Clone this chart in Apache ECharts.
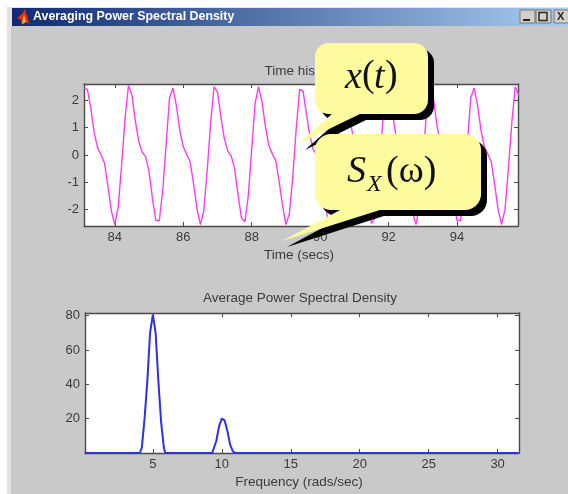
<!DOCTYPE html>
<html><head><meta charset="utf-8">
<style>html,body{margin:0;padding:0;background:#fff}#main{width:568px;height:494px;filter:blur(0.6px)}</style>
<script src="https://cdn.jsdelivr.net/npm/echarts@6/dist/echarts.min.js"></script>
</head><body><div id="main"></div>
<script>
const windowTitle = 'Averaging Power Spectral Density';
const timeTitle = 'Time history';
const timeAxisName = 'Time (secs)';
const freqTitle = 'Average Power Spectral Density';
const freqAxisName = 'Frequency (rads/sec)';
const timeTicks = [84, 86, 88, 90, 92, 94];
const signalTicks = [-2, -1, 0, 1, 2];
const freqTicks = [5, 10, 15, 20, 25, 30];
const psdTicks = [20, 40, 60, 80];

const timeSecs = [83.1,83.2,83.3,83.4,83.5,83.6,83.7,83.8,83.9,84.0,84.1,84.2,84.3,84.4,84.5,84.6,84.7,84.8,84.9,85.0,85.1,85.2,85.3,85.4,85.5,85.6,85.7,85.8,85.9,86.0,86.1,86.2,86.3,86.4,86.5,86.6,86.7,86.8,86.9,87.0,87.1,87.2,87.3,87.4,87.5,87.6,87.7,87.8,87.9,88.0,88.1,88.2,88.3,88.4,88.5,88.6,88.7,88.8,88.9,89.0,89.1,89.2,89.3,89.4,89.5,89.6,89.7,89.8,89.9,90.0,90.1,90.2,90.3,90.4,90.5,90.6,90.7,90.8,90.9,91.0,91.1,91.2,91.3,91.4,91.5,91.6,91.7,91.8,91.9,92.0,92.1,92.2,92.3,92.4,92.5,92.6,92.7,92.8,92.9,93.0,93.1,93.2,93.3,93.4,93.5,93.6,93.7,93.8,93.9,94.0,94.1,94.2,94.3,94.4,94.5,94.6,94.7,94.8,94.9,95.0,95.1,95.2,95.3,95.4,95.5,95.6,95.7,95.8];
const signal = [2.45,2.4,1.7,0.8,0.25,0,-0.3,-1.15,-2.05,-2.55,-1.9,-0.35,1.35,2.55,2.2,1.25,0.5,0.1,-0.05,-0.6,-1.6,-2.4,-2.4,-1.3,0.4,2.1,2.45,1.8,0.9,0.3,0.03,-0.25,-1.05,-1.95,-2.55,-2.05,-0.55,1.15,2.5,2.3,1.4,0.6,0.15,-0.03,-0.5,-1.45,-2.3,-2.45,-1.5,0.2,1.9,2.5,1.95,1.05,0.35,0.05,-0.2,-0.95,-1.85,-2.55,-2.15,-0.8,0.95,2.4,2.35,1.5,0.7,0.2,0,-0.4,-1.35,-2.2,-2.5,-1.7,0,1.6,2.5,2.05,1.1,0.4,0.07,-0.1,-0.8,-1.75,-2.5,-2.3,-1,0.75,2.25,2.4,1.65,0.8,0.25,0,-0.35,-1.2,-2.1,-2.55,-1.85,-0.25,1.45,2.55,2.15,1.2,0.45,0.1,-0.07,-0.65,-1.6,-2.4,-2.4,-1.25,0.45,2.1,2.45,1.8,0.9,0.3,0.03,-0.25,-1.1,-2,-2.55,-2,-0.5,1.2,2.5,2.2];

const freqs = [0.08,2,4.05,4.1,4.2,4.4,4.6,4.8,5.0,5.2,5.4,5.6,5.8,5.9,7,9.3,9.4,9.6,9.8,10.0,10.2,10.4,10.6,10.8,11.0,11.5,12,15,20,25,30,31.5];
const psd = [0,0,0,0.5,3,20,42,70,80.5,70,42,18,3,0,0,0,1,7,15.5,20,19,13,5,1,0,0,0,0,0,0,0,0];

const TXT = '#3a3a3a', FRAME = '#4a4a4a', FONT = '"Liberation Sans", Arial, sans-serif';
function zip(a, b) { return a.map((v, i) => [v, b[i]]); }
function axisBase(ticks, showLabel, extra) {
  return Object.assign({
    type: 'value', splitLine: { show: false },
    axisLine: { show: true, onZero: false, lineStyle: { color: FRAME, width: 1.4 } },
    axisTick: { show: true, inside: true, length: 4, customValues: ticks, lineStyle: { color: FRAME } },
    axisLabel: { show: showLabel, customValues: ticks, color: TXT, fontSize: 13, fontFamily: FONT, margin: 5 }
  }, extra);
}
const timeLim = { min: 83.1, max: 95.78 }, sigLim = { min: -2.6, max: 2.6 };
const freqLim = { min: 0.08, max: 31.55 }, psdLim = { min: 0, max: 81.5 };
const titleStyle = { color: TXT, fontSize: 13.5, fontWeight: 'normal', fontFamily: FONT };

function callout(rect, r, tail, shadowTail) {
  const S = 6;
  return [
    { type: 'rect', z: 100, shape: { x: rect[0] + S, y: rect[1] + S, width: rect[2], height: rect[3], r: r }, style: { fill: '#000' } },
    { type: 'polygon', z: 100, shape: { points: shadowTail }, style: { fill: '#000' } },
    { type: 'polygon', z: 101, shape: { points: tail }, style: { fill: '#fdfb9e' } },
    { type: 'rect', z: 101, shape: { x: rect[0], y: rect[1], width: rect[2], height: rect[3], r: r }, style: { fill: '#fdfb9e' } }
  ];
}
function serif(x, y, text, size, italic) {
  return { type: 'text', z: 102, x: x, y: y, style: { text: text, fill: '#111', fontFamily: '"Liberation Serif", serif', fontSize: size, fontStyle: italic ? 'italic' : 'normal', verticalAlign: 'middle' } };
}
const decor = [
  { type: 'rect', z: -2, silent: true, shape: { x: 7, y: 7, width: 561, height: 487 }, style: { fill: '#e4e2dc' } },
  { type: 'rect', z: -1, silent: true, shape: { x: 11, y: 26, width: 557, height: 468 }, style: { fill: '#c9c9c9' } },
  { type: 'rect', z: -1, silent: true, shape: { x: 12, y: 8, width: 556, height: 18 },
    style: { fill: new echarts.graphic.LinearGradient(0, 0, 1, 0, [{ offset: 0, color: '#0f2a72' }, { offset: 1, color: '#a8ccf0' }]) } },
  { type: 'polygon', z: 1, shape: { points: [[17, 18], [22, 14], [25, 9], [28, 20], [30, 24], [26, 22], [22, 25], [21, 20]] }, style: { fill: '#e83010' } },
  { type: 'polygon', z: 1, shape: { points: [[22, 24], [24, 15], [26, 22]] }, style: { fill: '#f8c820' } },
  { type: 'text', z: 1, x: 33, y: 17, style: { text: windowTitle, fill: '#fff', font: 'bold 12.4px ' + FONT, verticalAlign: 'middle' } },
  { type: 'rect', z: 1, shape: { x: 520, y: 10, width: 15, height: 13 }, style: { fill: '#d4d0c8', stroke: '#777', lineWidth: 1 } },
  { type: 'rect', z: 1, shape: { x: 536, y: 10, width: 15, height: 13 }, style: { fill: '#d4d0c8', stroke: '#777', lineWidth: 1 } },
  { type: 'rect', z: 1, shape: { x: 554, y: 10, width: 15, height: 13 }, style: { fill: '#d4d0c8', stroke: '#777', lineWidth: 1 } },
  { type: 'line', z: 2, shape: { x1: 523, y1: 20, x2: 530, y2: 20 }, style: { stroke: '#222', lineWidth: 2 } },
  { type: 'rect', z: 2, shape: { x: 539, y: 12.5, width: 8, height: 8 }, style: { fill: 'none', stroke: '#222', lineWidth: 1.4 } },
  { type: 'text', z: 2, x: 557, y: 16.5, style: { text: 'X', fill: '#222', font: 'bold 11px ' + FONT, verticalAlign: 'middle' } }
].concat(
  callout([315, 43, 113, 71], 14, [[333, 113], [298, 144], [362, 113]], [[340, 119], [305, 150], [368, 119]]),
  callout([315, 134, 166, 76], 16, [[342, 209], [282, 241], [383, 209]], [[348, 214], [287, 247], [390, 214]]),
  [
    serif(345, 78, 'x', 38, true), serif(362, 76, '(', 38, false), serif(374, 78, 't', 38, true), serif(385, 76, ')', 38, false),
    serif(347, 172, 'S', 38, true), serif(367, 185, 'X', 24, true), serif(386, 172, '(\u03c9)', 38, false)
  ]
);

const chart = echarts.init(document.getElementById('main'), null, { renderer: 'canvas' });
chart.setOption({
  animation: false,
  backgroundColor: '#fff',
  title: [
    { text: timeTitle, left: 296, top: 59, textAlign: 'center', textStyle: titleStyle },
    { text: freqTitle, left: 295, top: 286, textAlign: 'center', textStyle: titleStyle },
    { text: timeAxisName, left: 294, top: 243, textAlign: 'center', textStyle: titleStyle },
    { text: freqAxisName, left: 294, top: 470, textAlign: 'center', textStyle: titleStyle }
  ],
  grid: [
    { left: 84, top: 84, width: 434, height: 142, show: true, backgroundColor: '#fff', borderWidth: 0 },
    { left: 85, top: 313, width: 434, height: 140, show: true, backgroundColor: '#fff', borderWidth: 0 }
  ],
  xAxis: [
    axisBase(timeTicks, true, Object.assign({ gridIndex: 0, position: 'bottom' }, timeLim)),
    axisBase(timeTicks, false, Object.assign({ gridIndex: 0, position: 'top' }, timeLim)),
    axisBase(freqTicks, true, Object.assign({ gridIndex: 1, position: 'bottom' }, freqLim)),
    axisBase(freqTicks, false, Object.assign({ gridIndex: 1, position: 'top' }, freqLim))
  ],
  yAxis: [
    axisBase(signalTicks, true, Object.assign({ gridIndex: 0, position: 'left' }, sigLim)),
    axisBase(signalTicks, false, Object.assign({ gridIndex: 0, position: 'right' }, sigLim)),
    axisBase(psdTicks, true, Object.assign({ gridIndex: 1, position: 'left' }, psdLim)),
    axisBase(psdTicks, false, Object.assign({ gridIndex: 1, position: 'right' }, psdLim))
  ],
  series: [
    { type: 'line', xAxisIndex: 0, yAxisIndex: 0, data: zip(timeSecs, signal), showSymbol: false, clip: true,
      lineStyle: { color: '#ff3cf5', width: 1.4 } },
    { type: 'line', xAxisIndex: 2, yAxisIndex: 2, data: zip(freqs, psd), showSymbol: false, clip: false, z: 10,
      lineStyle: { color: '#2f2fe8', width: 2 } }
  ],
  graphic: { elements: decor }
});
</script></body></html>
